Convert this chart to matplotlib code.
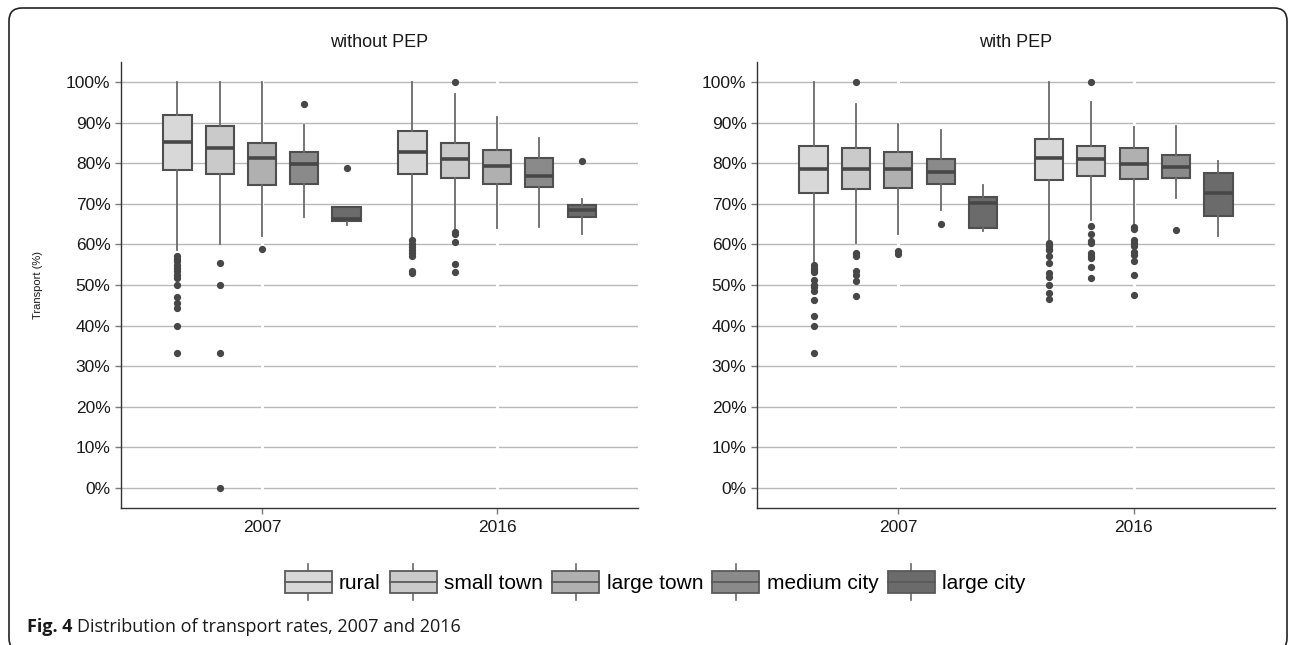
import matplotlib
matplotlib.use("Agg")
import matplotlib.pyplot as plt
from matplotlib.patches import Rectangle, FancyBboxPatch
from matplotlib.lines import Line2D
from matplotlib.legend_handler import HandlerBase
from matplotlib.ticker import FuncFormatter

plt.rcParams['font.family'] = ['Liberation Sans', 'DejaVu Sans']

categories = ['rural', 'small town', 'large town', 'medium city', 'large city']
years = ['2007', '2016']
panels = ['without PEP', 'with PEP']
fills = ['#d8d8d8', '#cacaca', '#b0b0b0', '#8a8a8a', '#6b6b6b']

# without PEP: one row per year, one column per category
wo_whislo = [[58.6, 60.1, 62.1, 66.8, 64.8], [61.5, 63.5, 64.0, 64.3, 62.5]]
wo_q1 = [[78.3, 77.3, 74.7, 74.9, 65.8], [77.4, 76.4, 75.0, 74.2, 66.7]]
wo_med = [[85.3, 83.7, 81.3, 79.8, 66.2], [82.8, 81.0, 79.3, 76.9, 68.5]]
wo_q3 = [[91.9, 89.2, 85.1, 82.8, 69.3], [88.0, 85.1, 83.2, 81.3, 69.7]]
wo_whishi = [[100, 100, 100, 89.4, 69.3], [100, 97.0, 91.5, 86.3, 71.1]]
wo_fliers = [
    [[57.2, 56.5, 55.8, 55.0, 54.2, 53.5, 52.5, 51.7, 50.0, 47.0, 45.5, 44.4, 40.0, 33.3],
     [55.5, 50.0, 33.3, 0.0], [59.0], [94.7], [78.8]],
    [[61.1, 60.0, 59.3, 58.6, 57.9, 57.2, 53.5, 53.0],
     [100, 63.1, 62.7, 60.5, 55.2, 53.1], [], [], [80.7]],
]

# with PEP
wp_whislo = [[55.4, 60.3, 62.6, 68.5, 63.4], [60.7, 66.0, 64.8, 71.5, 62.1]]
wp_q1 = [[72.7, 73.6, 74.0, 75.0, 64.0], [75.9, 76.9, 76.1, 76.3, 67.0]]
wp_med = [[78.7, 78.7, 78.6, 77.9, 70.3], [81.3, 81.0, 79.9, 79.0, 72.7]]
wp_q3 = [[84.2, 83.7, 82.7, 81.0, 71.6], [86.0, 84.4, 83.9, 82.0, 77.6]]
wp_whishi = [[100, 94.7, 89.8, 88.3, 74.6], [100, 95.2, 89.0, 89.2, 80.5]]
wp_fliers = [
    [[54.9, 54.3, 53.7, 53.2, 51.2, 50.0, 49.5, 48.6, 46.3, 42.3, 40.0, 33.3],
     [100, 58.0, 57.6, 57.2, 53.5, 52.5, 51.1, 47.3], [58.5, 57.6], [65.0], []],
    [[60.4, 59.9, 59.5, 59.0, 58.6, 57.2, 55.5, 52.9, 51.9, 50.0, 48.1, 46.5],
     [100, 64.6, 62.7, 60.9, 60.3, 58.0, 57.2, 56.6, 54.5, 51.7],
     [64.3, 63.7, 61.1, 60.3, 59.5, 58.2, 57.4, 56.0, 52.5, 47.5], [63.5], []],
]

panel_data = [
    (wo_whislo, wo_q1, wo_med, wo_q3, wo_whishi, wo_fliers),
    (wp_whislo, wp_q1, wp_med, wp_q3, wp_whishi, wp_fliers),
]

EDGE = '#4f4f4f'
dodge = 0.18
box_w = 0.12

fig = plt.figure(figsize=(12.9, 6.45), dpi=100)
ax_left = fig.add_axes([121 / 1290, 137 / 645, 517 / 1290, 446 / 645])
ax_right = fig.add_axes([757 / 1290, 137 / 645, 518 / 1290, 446 / 645])

for ax, title, (whislo, q1, med, q3, whishi, fliers) in zip([ax_left, ax_right], panels, panel_data):
    ax.set_axisbelow(True)
    ax.yaxis.grid(True, color='#b8b8b8', lw=1.0, zorder=0.5)
    for gx in range(1, len(years) + 1):
        ax.axvline(gx, color='white', lw=2.2, zorder=0.8)

    for yi, year in enumerate(years):
        for ci, cat in enumerate(categories):
            st = {'whislo': whislo[yi][ci], 'q1': q1[yi][ci], 'med': med[yi][ci],
                  'q3': q3[yi][ci], 'whishi': whishi[yi][ci], 'fliers': fliers[yi][ci]}
            pos = yi + 1 + (ci - 2) * dodge
            bp = ax.bxp([st], positions=[pos], widths=box_w, patch_artist=True,
                        showcaps=False, manage_ticks=False,
                        boxprops=dict(facecolor=fills[ci], edgecolor=EDGE, lw=1.5),
                        medianprops=dict(color='#474747', lw=2.6, solid_capstyle='butt'),
                        whiskerprops=dict(color='#6a6a6a', lw=1.3),
                        flierprops=dict(marker='o', markersize=4.2, markerfacecolor='#474747',
                                        markeredgecolor='#474747', linestyle='none'))
            for art in bp['boxes'] + bp['medians'] + bp['whiskers'] + bp['fliers']:
                art.set_zorder(2)

    ax.set_xlim(0.4, 2.6)
    ax.set_ylim(-5, 105)
    ax.set_yticks(range(0, 101, 10))
    ax.yaxis.set_major_formatter(FuncFormatter(lambda v, p: f'{v:.0f}%'))
    ax.set_xticks([1, 2])
    ax.set_xticklabels(years)
    ax.tick_params(axis='both', labelsize=12.5, colors='#7a7a7a', labelcolor='#1a1a1a',
                   length=4, width=1)
    ax.tick_params(axis='x', pad=5)
    for side in ['top', 'right']:
        ax.spines[side].set_visible(False)
    for side in ['left', 'bottom']:
        ax.spines[side].set_color('#333333')
        ax.spines[side].set_linewidth(1.0)
    ax.set_title(title, fontsize=13, color='#1a1a1a', pad=11)

fig.text(38 / 1290, 1 - 285 / 645, 'Transport (%)', rotation=90, fontsize=8,
         ha='center', va='center', color='#1a1a1a')


class BoxKey(HandlerBase):
    def create_artists(self, legend, orig_handle, xdescent, ydescent, width, height,
                       fontsize, trans):
        x0, y0 = -xdescent, -ydescent
        xm = x0 + width / 2
        stub = 0.28 * height
        top = Line2D([xm, xm], [y0 + height, y0 + height + stub], color='#6a6a6a', lw=1.2,
                     transform=trans)
        bot = Line2D([xm, xm], [y0 - stub, y0], color='#6a6a6a', lw=1.2, transform=trans)
        box = Rectangle((x0, y0), width, height, facecolor=orig_handle.get_facecolor(),
                        edgecolor='#5a5a5a', lw=1.3, transform=trans)
        mid = Line2D([x0, x0 + width], [y0 + height / 2] * 2, color='#5a5a5a', lw=1.3,
                     transform=trans)
        return [top, bot, box, mid]


handles = [Rectangle((0, 0), 1, 1, facecolor=c) for c in fills]
fig.legend(handles, categories, handler_map={Rectangle: BoxKey()}, loc='center',
           bbox_to_anchor=(655 / 1290, 1 - 582 / 645), ncol=5, frameon=False, fontsize=15,
           handlelength=2.25, handleheight=1.3, handletextpad=0.35, columnspacing=0.45,
           borderaxespad=0)

# caption
cap_y = 1 - 627 / 645
t1 = fig.text(27 / 1290, cap_y, 'Fig. 4', fontsize=13, weight='bold',
              family=['Open Sans', 'DejaVu Sans'], color='#1a1a1a', va='center')
fig.canvas.draw()
bb = t1.get_window_extent()
fig.text((bb.x1 + 5) / 1290, cap_y, 'Distribution of transport rates, 2007 and 2016',
         fontsize=13, family=['Open Sans', 'DejaVu Sans'], color='#1a1a1a', va='center')

# rounded outer frame, bottom edge just below the figure
frame = FancyBboxPatch((0.09, -0.06), 12.78, 6.43, boxstyle='round,pad=0,rounding_size=0.13',
                       transform=fig.dpi_scale_trans, facecolor='none', edgecolor='#222222',
                       lw=1.2)
fig.add_artist(frame)

fig.savefig('out.png', dpi=100)
